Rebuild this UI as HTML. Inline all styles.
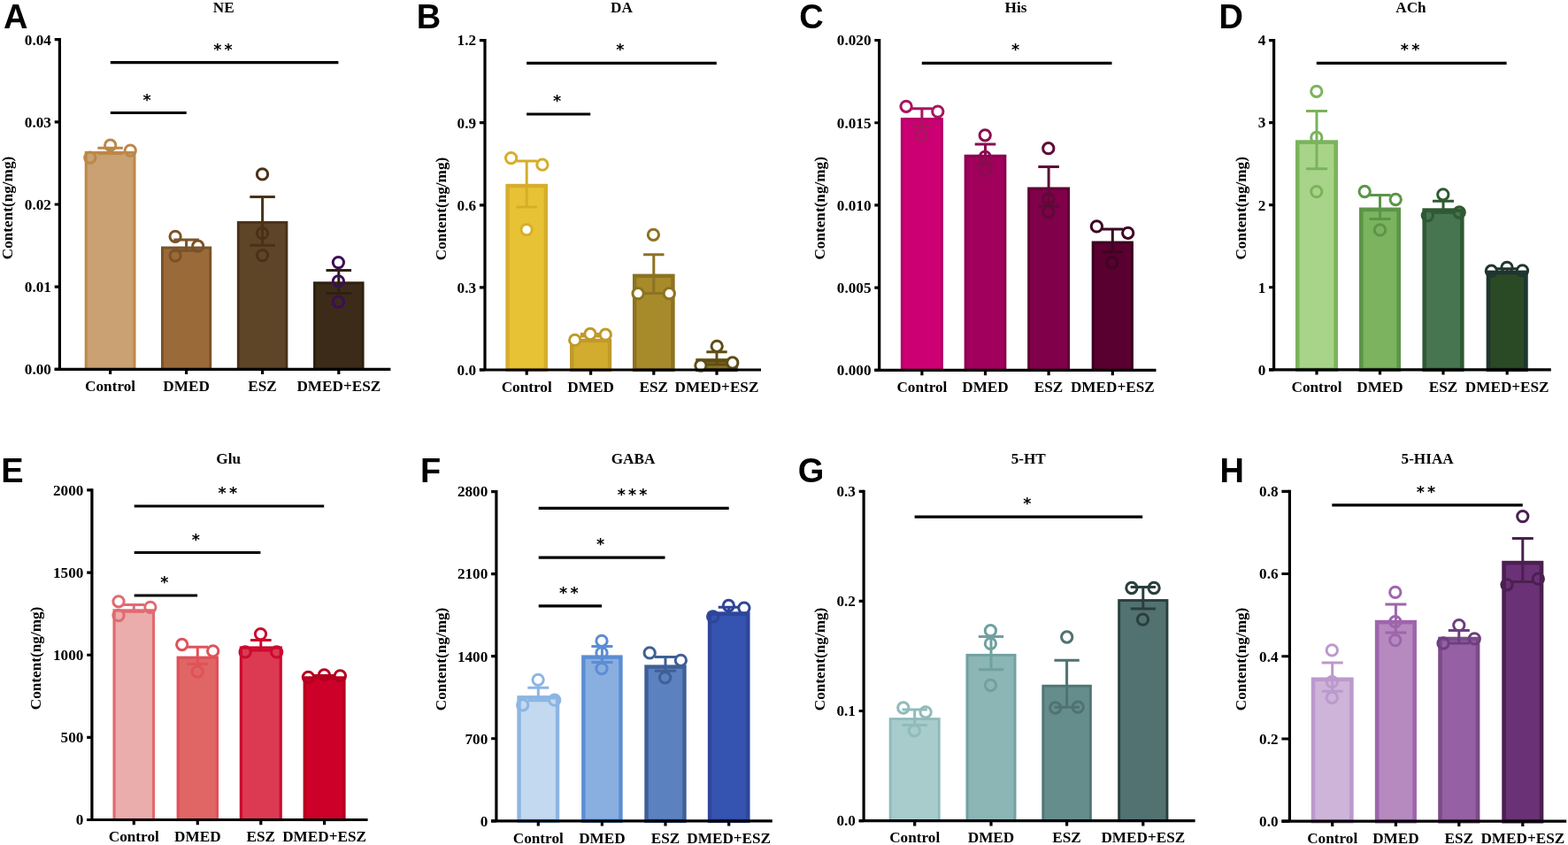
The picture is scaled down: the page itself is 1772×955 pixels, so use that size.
<!DOCTYPE html>
<html><head><meta charset="utf-8"><title>Neurotransmitter content</title>
<style>
html,body{margin:0;padding:0;background:#fff;}
svg{display:block;}
.t{font-family:'Liberation Serif', 'Times New Roman', serif;font-weight:bold;font-size:17.2px;fill:#000;}
.L{font-family:'Liberation Sans', Arial, sans-serif;font-weight:bold;font-size:38px;fill:#000;}
.s{font-family:'DejaVu Sans', sans-serif;font-weight:bold;font-size:17.5px;fill:#000;letter-spacing:3.2px;}
</style></head>
<body>
<svg width="1772" height="955" viewBox="0 0 1772 955">
<rect width="1772" height="955" fill="#fff"/>
<rect x="97.15" y="172.35" width="54.9" height="244.95" fill="#C9A172" stroke="#BD8747" stroke-width="2.9"/>
<rect x="183.45" y="279.95" width="54.3" height="137.35" fill="#9A6B39" stroke="#7B5228" stroke-width="2.9"/>
<rect x="269.3" y="251.35" width="54.6" height="165.95" fill="#5E4528" stroke="#4A3219" stroke-width="2.9"/>
<rect x="355.5" y="319.75" width="54.6" height="97.55" fill="#3C2B19" stroke="#2E2011" stroke-width="2.9"/>
<path d="M124.6 167.3V173.5M110.35 167.3H138.85M110.35 173.5H138.85" stroke="#BD8747" stroke-width="3.0" fill="none"/>
<path d="M210.6 271V283.2M196.35 271H224.85M196.35 283.2H224.85" stroke="#7B5228" stroke-width="3.0" fill="none"/>
<path d="M296.6 222.4V277.3M282.35 222.4H310.85M282.35 277.3H310.85" stroke="#4A3219" stroke-width="3.0" fill="none"/>
<path d="M382.8 305.5V331.6M368.55 305.5H397.05M368.55 331.6H397.05" stroke="#2E2011" stroke-width="3.0" fill="none"/>
<circle cx="124.7" cy="164.2" r="6.15" fill="none" stroke="#BD8747" stroke-width="3.0"/>
<circle cx="101.8" cy="178.1" r="6.15" fill="none" stroke="#BD8747" stroke-width="3.0"/>
<circle cx="147.3" cy="170.1" r="6.15" fill="none" stroke="#BD8747" stroke-width="3.0"/>
<circle cx="198.1" cy="267.3" r="6.15" fill="none" stroke="#7B5228" stroke-width="3.0"/>
<circle cx="223.7" cy="278.2" r="6.15" fill="none" stroke="#7B5228" stroke-width="3.0"/>
<circle cx="198.1" cy="289" r="6.15" fill="none" stroke="#7B5228" stroke-width="3.0"/>
<circle cx="296.5" cy="196.9" r="6.15" fill="none" stroke="#4A3219" stroke-width="3.0"/>
<circle cx="296.5" cy="263.6" r="6.15" fill="none" stroke="#4A3219" stroke-width="3.0"/>
<circle cx="296.5" cy="288.6" r="6.15" fill="none" stroke="#4A3219" stroke-width="3.0"/>
<circle cx="382.4" cy="296.6" r="6.15" fill="none" stroke="#3C0E56" stroke-width="3.0"/>
<circle cx="382.4" cy="317.9" r="6.15" fill="none" stroke="#3C0E56" stroke-width="3.0"/>
<circle cx="382.4" cy="341.1" r="6.15" fill="none" stroke="#3C0E56" stroke-width="3.0"/>
<path d="M67.4 43.1V417.3M61.7 417.3H441.4" stroke="#000" stroke-width="3.2" fill="none"/>
<text x="57.9" y="423.1" text-anchor="end" class="t">0.00</text>
<text x="57.9" y="329.95" text-anchor="end" class="t">0.01</text>
<text x="57.9" y="236.8" text-anchor="end" class="t">0.02</text>
<text x="57.9" y="143.65" text-anchor="end" class="t">0.03</text>
<text x="57.9" y="50.5" text-anchor="end" class="t">0.04</text>
<path d="M61.7 417.3H67.4M61.7 324.15H67.4M61.7 231H67.4M61.7 137.85H67.4M61.7 44.7H67.4M124.6 417.3V423.1M210.6 417.3V423.1M296.6 417.3V423.1M382.8 417.3V423.1" stroke="#000" stroke-width="3.2" fill="none"/>
<text x="124.6" y="442.1" text-anchor="middle" class="t">Control</text>
<text x="210.6" y="442.1" text-anchor="middle" class="t">DMED</text>
<text x="296.6" y="442.1" text-anchor="middle" class="t">ESZ</text>
<text x="382.8" y="442.1" text-anchor="middle" class="t">DMED+ESZ</text>
<text x="252.7" y="13.8" text-anchor="middle" class="t">NE</text>
<text x="3.95" y="31.85" class="L">A</text>
<text transform="translate(13.65 235) rotate(-90)" text-anchor="middle" class="t">Content(ng/mg)</text>
<path d="M124.8 70.7H382.4" stroke="#000" stroke-width="3.2"/>
<text x="253.6" y="61.7" text-anchor="middle" class="s">**</text>
<path d="M124.8 127.5H210.7" stroke="#000" stroke-width="3.2"/>
<text x="167.75" y="118.5" text-anchor="middle" class="s">*</text>
<rect x="573.55" y="210" width="43.3" height="208" fill="#E7C234" stroke="#D6AD2B" stroke-width="4.4"/>
<rect x="646.2" y="385" width="42.8" height="33" fill="#D2AC2F" stroke="#C09A29" stroke-width="4.4"/>
<rect x="717.15" y="311.8" width="43.3" height="106.2" fill="#A78A2A" stroke="#8C7321" stroke-width="4.4"/>
<rect x="788.45" y="407.4" width="43.1" height="10.6" fill="#8A7425" stroke="#5E4E16" stroke-width="4.4"/>
<path d="M595.2 182V233.9M583.5 182H606.9M583.5 233.9H606.9" stroke="#D6AD2B" stroke-width="3.0" fill="none"/>
<path d="M667.6 377.4V380M655.9 377.4H679.3M655.9 380H679.3" stroke="#C09A29" stroke-width="3.0" fill="none"/>
<path d="M738.8 287.7V331.5M727.1 287.7H750.5M727.1 331.5H750.5" stroke="#8C7321" stroke-width="3.0" fill="none"/>
<path d="M810 397.8V412M798.3 397.8H821.7M798.3 412H821.7" stroke="#5E4E16" stroke-width="3.0" fill="none"/>
<circle cx="577.6" cy="178.6" r="6.15" fill="#ffffff" stroke="#D6AD2B" stroke-width="3.0"/>
<circle cx="612.9" cy="186.2" r="6.15" fill="#ffffff" stroke="#D6AD2B" stroke-width="3.0"/>
<circle cx="595.1" cy="259.6" r="6.15" fill="#ffffff" stroke="#D6AD2B" stroke-width="3.0"/>
<circle cx="649.7" cy="384.4" r="6.15" fill="#ffffff" stroke="#C09A29" stroke-width="3.0"/>
<circle cx="667" cy="377.5" r="6.15" fill="#ffffff" stroke="#C09A29" stroke-width="3.0"/>
<circle cx="684.3" cy="378.2" r="6.15" fill="#ffffff" stroke="#C09A29" stroke-width="3.0"/>
<circle cx="738.4" cy="265.3" r="6.15" fill="#ffffff" stroke="#8C7321" stroke-width="3.0"/>
<circle cx="721.1" cy="331.7" r="6.15" fill="#ffffff" stroke="#8C7321" stroke-width="3.0"/>
<circle cx="756.3" cy="331.7" r="6.15" fill="#ffffff" stroke="#8C7321" stroke-width="3.0"/>
<circle cx="810.2" cy="391.3" r="6.15" fill="#ffffff" stroke="#5E4E16" stroke-width="3.0"/>
<circle cx="791.9" cy="413.1" r="6.15" fill="#ffffff" stroke="#5E4E16" stroke-width="3.0"/>
<circle cx="827.8" cy="410" r="6.15" fill="#ffffff" stroke="#5E4E16" stroke-width="3.0"/>
<path d="M548 44V418M541.9 418H860" stroke="#000" stroke-width="3.2" fill="none"/>
<text x="538.1" y="423.8" text-anchor="end" class="t">0.0</text>
<text x="538.1" y="330.7" text-anchor="end" class="t">0.3</text>
<text x="538.1" y="237.6" text-anchor="end" class="t">0.6</text>
<text x="538.1" y="144.5" text-anchor="end" class="t">0.9</text>
<text x="538.1" y="51.4" text-anchor="end" class="t">1.2</text>
<path d="M541.9 418H548M541.9 324.9H548M541.9 231.8H548M541.9 138.7H548M541.9 45.6H548M595.2 418V423.8M667.6 418V423.8M738.8 418V423.8M810 418V423.8" stroke="#000" stroke-width="3.2" fill="none"/>
<text x="595.2" y="442.8" text-anchor="middle" class="t">Control</text>
<text x="667.6" y="442.8" text-anchor="middle" class="t">DMED</text>
<text x="738.8" y="442.8" text-anchor="middle" class="t">ESZ</text>
<text x="810" y="442.8" text-anchor="middle" class="t">DMED+ESZ</text>
<text x="702.5" y="13.8" text-anchor="middle" class="t">DA</text>
<text x="470.7" y="32" class="L">B</text>
<text transform="translate(503.6 236) rotate(-90)" text-anchor="middle" class="t">Content(ng/mg)</text>
<path d="M595.1 71.3H809.8" stroke="#000" stroke-width="3.2"/>
<text x="702.45" y="62.3" text-anchor="middle" class="s">*</text>
<path d="M595.1 129H667.2" stroke="#000" stroke-width="3.2"/>
<text x="631.15" y="120" text-anchor="middle" class="s">*</text>
<rect x="1019.35" y="134.5" width="45.1" height="283.9" fill="#CC0073" stroke="#B5006A" stroke-width="3"/>
<rect x="1091.15" y="176.2" width="44.7" height="242.2" fill="#A1005C" stroke="#8A004F" stroke-width="3"/>
<rect x="1162.65" y="213" width="44.9" height="205.4" fill="#80004A" stroke="#5E0036" stroke-width="3"/>
<rect x="1235.2" y="274" width="44.2" height="144.4" fill="#5A0030" stroke="#3C0020" stroke-width="3"/>
<path d="M1041.9 122.8V142.9M1030.1 122.8H1053.7M1030.1 142.9H1053.7" stroke="#A8145F" stroke-width="3.0" fill="none"/>
<path d="M1113.5 163.1V186.2M1101.7 163.1H1125.3M1101.7 186.2H1125.3" stroke="#8C0A50" stroke-width="3.0" fill="none"/>
<path d="M1185.1 188.6V233.3M1173.3 188.6H1196.9M1173.3 233.3H1196.9" stroke="#5E0A38" stroke-width="3.0" fill="none"/>
<path d="M1257.3 259.1V284.7M1245.5 259.1H1269.1M1245.5 284.7H1269.1" stroke="#3C0522" stroke-width="3.0" fill="none"/>
<circle cx="1024.1" cy="120.3" r="6.15" fill="none" stroke="#A8145F" stroke-width="3.0"/>
<circle cx="1059.8" cy="126.1" r="6.15" fill="none" stroke="#A8145F" stroke-width="3.0"/>
<circle cx="1041.4" cy="152.8" r="6.15" fill="none" stroke="#A8145F" stroke-width="3.0"/>
<circle cx="1113.2" cy="152.8" r="6.15" fill="none" stroke="#8C0A50" stroke-width="3.0"/>
<circle cx="1113.2" cy="177.4" r="6.15" fill="none" stroke="#8C0A50" stroke-width="3.0"/>
<circle cx="1113.2" cy="192.4" r="6.15" fill="none" stroke="#8C0A50" stroke-width="3.0"/>
<circle cx="1184.8" cy="167.7" r="6.15" fill="none" stroke="#5E0A38" stroke-width="3.0"/>
<circle cx="1184.8" cy="224.8" r="6.15" fill="none" stroke="#5E0A38" stroke-width="3.0"/>
<circle cx="1184.8" cy="239.8" r="6.15" fill="none" stroke="#5E0A38" stroke-width="3.0"/>
<circle cx="1239.4" cy="255.9" r="6.15" fill="none" stroke="#3C0522" stroke-width="3.0"/>
<circle cx="1274.7" cy="263.3" r="6.15" fill="none" stroke="#3C0522" stroke-width="3.0"/>
<circle cx="1256.7" cy="296.9" r="6.15" fill="none" stroke="#3C0522" stroke-width="3.0"/>
<path d="M993.7 43.9V418.4M988.3 418.4H1306.5" stroke="#000" stroke-width="3.2" fill="none"/>
<text x="984.5" y="424.2" text-anchor="end" class="t">0.000</text>
<text x="984.5" y="330.97" text-anchor="end" class="t">0.005</text>
<text x="984.5" y="237.75" text-anchor="end" class="t">0.010</text>
<text x="984.5" y="144.53" text-anchor="end" class="t">0.015</text>
<text x="984.5" y="51.3" text-anchor="end" class="t">0.020</text>
<path d="M988.3 418.4H993.7M988.3 325.17H993.7M988.3 231.95H993.7M988.3 138.73H993.7M988.3 45.5H993.7M1041.9 418.4V424.2M1113.5 418.4V424.2M1185.1 418.4V424.2M1257.3 418.4V424.2" stroke="#000" stroke-width="3.2" fill="none"/>
<text x="1041.9" y="443.2" text-anchor="middle" class="t">Control</text>
<text x="1113.5" y="443.2" text-anchor="middle" class="t">DMED</text>
<text x="1185.1" y="443.2" text-anchor="middle" class="t">ESZ</text>
<text x="1257.3" y="443.2" text-anchor="middle" class="t">DMED+ESZ</text>
<text x="1148" y="13.8" text-anchor="middle" class="t">His</text>
<text x="903.2" y="32.45" class="L">C</text>
<text transform="translate(931.75 235.3) rotate(-90)" text-anchor="middle" class="t">Content(ng/mg)</text>
<path d="M1041.8 71.3H1256.5" stroke="#000" stroke-width="3.2"/>
<text x="1149.15" y="62.3" text-anchor="middle" class="s">*</text>
<rect x="1466.3" y="160.6" width="43.4" height="257.2" fill="#A8D48A" stroke="#7AB35C" stroke-width="4.6"/>
<rect x="1538.3" y="236.8" width="42.4" height="181" fill="#7BB35E" stroke="#5C9549" stroke-width="4.6"/>
<rect x="1609.7" y="237.6" width="42.6" height="180.2" fill="#467550" stroke="#2F5A32" stroke-width="4.6"/>
<rect x="1681.95" y="307.9" width="42.5" height="109.9" fill="#2A4925" stroke="#1F3530" stroke-width="4.6"/>
<path d="M1488 125.6V190.8M1476 125.6H1500M1476 190.8H1500" stroke="#7AB35C" stroke-width="3.0" fill="none"/>
<path d="M1559.5 220.4V247.4M1547.5 220.4H1571.5M1547.5 247.4H1571.5" stroke="#5C9549" stroke-width="3.0" fill="none"/>
<path d="M1631 227.2V240.3M1619 227.2H1643M1619 240.3H1643" stroke="#2F5A32" stroke-width="3.0" fill="none"/>
<path d="M1703.2 303.8V308M1691.2 303.8H1715.2M1691.2 308H1715.2" stroke="#1F3530" stroke-width="3.0" fill="none"/>
<circle cx="1487.8" cy="103.3" r="6.15" fill="none" stroke="#7AB35C" stroke-width="3.0"/>
<circle cx="1487.8" cy="155.5" r="6.15" fill="none" stroke="#7AB35C" stroke-width="3.0"/>
<circle cx="1487.8" cy="216.6" r="6.15" fill="none" stroke="#7AB35C" stroke-width="3.0"/>
<circle cx="1542.2" cy="216.5" r="6.15" fill="none" stroke="#5C9549" stroke-width="3.0"/>
<circle cx="1577.2" cy="225.5" r="6.15" fill="none" stroke="#5C9549" stroke-width="3.0"/>
<circle cx="1559.5" cy="259.9" r="6.15" fill="none" stroke="#5C9549" stroke-width="3.0"/>
<circle cx="1630.8" cy="219.8" r="6.15" fill="none" stroke="#2F5A32" stroke-width="3.0"/>
<circle cx="1613.3" cy="243.6" r="6.15" fill="none" stroke="#2F5A32" stroke-width="3.0"/>
<circle cx="1649.2" cy="240" r="6.15" fill="none" stroke="#2F5A32" stroke-width="3.0"/>
<circle cx="1685.4" cy="306.2" r="6.15" fill="none" stroke="#1F3530" stroke-width="3.0"/>
<circle cx="1703" cy="302.3" r="6.15" fill="none" stroke="#1F3530" stroke-width="3.0"/>
<circle cx="1720.5" cy="305.8" r="6.15" fill="none" stroke="#1F3530" stroke-width="3.0"/>
<path d="M1439.6 44V417.8M1434.1 417.8H1752.8" stroke="#000" stroke-width="3.2" fill="none"/>
<text x="1430.3" y="423.6" text-anchor="end" class="t">0</text>
<text x="1430.3" y="330.55" text-anchor="end" class="t">1</text>
<text x="1430.3" y="237.5" text-anchor="end" class="t">2</text>
<text x="1430.3" y="144.45" text-anchor="end" class="t">3</text>
<text x="1430.3" y="51.4" text-anchor="end" class="t">4</text>
<path d="M1434.1 417.8H1439.6M1434.1 324.75H1439.6M1434.1 231.7H1439.6M1434.1 138.65H1439.6M1434.1 45.6H1439.6M1488 417.8V423.6M1559.5 417.8V423.6M1631 417.8V423.6M1703.2 417.8V423.6" stroke="#000" stroke-width="3.2" fill="none"/>
<text x="1488" y="442.6" text-anchor="middle" class="t">Control</text>
<text x="1559.5" y="442.6" text-anchor="middle" class="t">DMED</text>
<text x="1631" y="442.6" text-anchor="middle" class="t">ESZ</text>
<text x="1703.2" y="442.6" text-anchor="middle" class="t">DMED+ESZ</text>
<text x="1594.5" y="13.8" text-anchor="middle" class="t">ACh</text>
<text x="1377.4" y="32" class="L">D</text>
<text transform="translate(1408.4 235.3) rotate(-90)" text-anchor="middle" class="t">Content(ng/mg)</text>
<path d="M1487.8 71.3H1702.6" stroke="#000" stroke-width="3.2"/>
<text x="1595.2" y="62.3" text-anchor="middle" class="s">**</text>
<rect x="129.05" y="689.9" width="44.5" height="236.6" fill="#EBACAC" stroke="#E06B70" stroke-width="3.2"/>
<rect x="201.2" y="743.2" width="44.2" height="183.3" fill="#E06565" stroke="#E0505A" stroke-width="3.2"/>
<rect x="272.35" y="732" width="44.9" height="194.5" fill="#DC3A52" stroke="#CC0A30" stroke-width="3.2"/>
<rect x="344.2" y="765.9" width="44.8" height="160.6" fill="#CC0029" stroke="#B5001F" stroke-width="3.2"/>
<path d="M151.3 683.6V691.3M139.45 683.6H163.15M139.45 691.3H163.15" stroke="#E06B70" stroke-width="3.0" fill="none"/>
<path d="M223.3 731.2V750.4M211.45 731.2H235.15M211.45 750.4H235.15" stroke="#E0525A" stroke-width="3.0" fill="none"/>
<path d="M294.8 723.6V734.9M282.95 723.6H306.65M282.95 734.9H306.65" stroke="#CC0A30" stroke-width="3.0" fill="none"/>
<path d="M366.6 763.4V766M354.75 763.4H378.45M354.75 766H378.45" stroke="#B5001F" stroke-width="3.0" fill="none"/>
<circle cx="134" cy="679.8" r="6.15" fill="none" stroke="#E06B70" stroke-width="3.0"/>
<circle cx="169.9" cy="686.3" r="6.15" fill="none" stroke="#E06B70" stroke-width="3.0"/>
<circle cx="134" cy="695.6" r="6.15" fill="none" stroke="#E06B70" stroke-width="3.0"/>
<circle cx="205.7" cy="728.5" r="6.15" fill="none" stroke="#E0525A" stroke-width="3.0"/>
<circle cx="240.7" cy="735.8" r="6.15" fill="none" stroke="#E0525A" stroke-width="3.0"/>
<circle cx="223.1" cy="759.2" r="6.15" fill="none" stroke="#E0525A" stroke-width="3.0"/>
<circle cx="294.5" cy="716.6" r="6.15" fill="none" stroke="#CC0A30" stroke-width="3.0"/>
<circle cx="277.1" cy="736.9" r="6.15" fill="none" stroke="#CC0A30" stroke-width="3.0"/>
<circle cx="312.7" cy="736.9" r="6.15" fill="none" stroke="#CC0A30" stroke-width="3.0"/>
<circle cx="348.4" cy="765.3" r="6.15" fill="none" stroke="#B5001F" stroke-width="3.0"/>
<circle cx="366.4" cy="762.9" r="6.15" fill="none" stroke="#B5001F" stroke-width="3.0"/>
<circle cx="384.4" cy="763.8" r="6.15" fill="none" stroke="#B5001F" stroke-width="3.0"/>
<path d="M103.9 552.35V926.5M98.2 926.5H415.6" stroke="#000" stroke-width="3.2" fill="none"/>
<text x="94.4" y="932.3" text-anchor="end" class="t">0</text>
<text x="94.4" y="839.16" text-anchor="end" class="t">500</text>
<text x="94.4" y="746.02" text-anchor="end" class="t">1000</text>
<text x="94.4" y="652.89" text-anchor="end" class="t">1500</text>
<text x="94.4" y="559.75" text-anchor="end" class="t">2000</text>
<path d="M98.2 926.5H103.9M98.2 833.36H103.9M98.2 740.23H103.9M98.2 647.09H103.9M98.2 553.95H103.9M151.3 926.5V932.3M223.3 926.5V932.3M294.8 926.5V932.3M366.6 926.5V932.3" stroke="#000" stroke-width="3.2" fill="none"/>
<text x="151.3" y="951.3" text-anchor="middle" class="t">Control</text>
<text x="223.3" y="951.3" text-anchor="middle" class="t">DMED</text>
<text x="294.8" y="951.3" text-anchor="middle" class="t">ESZ</text>
<text x="366.6" y="951.3" text-anchor="middle" class="t">DMED+ESZ</text>
<text x="258.2" y="523.8" text-anchor="middle" class="t">Glu</text>
<text x="1.35" y="545" class="L">E</text>
<text transform="translate(45.7 743.95) rotate(-90)" text-anchor="middle" class="t">Content(ng/mg)</text>
<path d="M151.7 572H366.2" stroke="#000" stroke-width="3.2"/>
<text x="258.95" y="563" text-anchor="middle" class="s">**</text>
<path d="M151.7 624.5H294.4" stroke="#000" stroke-width="3.2"/>
<text x="223.05" y="615.5" text-anchor="middle" class="s">*</text>
<path d="M151.7 673H223.1" stroke="#000" stroke-width="3.2"/>
<text x="187.4" y="664" text-anchor="middle" class="s">*</text>
<rect x="586.55" y="788.3" width="43.5" height="139.5" fill="#C3D9F0" stroke="#8DB5E3" stroke-width="4.4"/>
<rect x="659.35" y="742.6" width="42.1" height="185.2" fill="#88AFE0" stroke="#5B8DD3" stroke-width="4.4"/>
<rect x="730.5" y="753.6" width="43" height="174.2" fill="#5B81BF" stroke="#3F5F96" stroke-width="4.4"/>
<rect x="802.05" y="693.5" width="43.3" height="234.3" fill="#3553B0" stroke="#2E4699" stroke-width="4.4"/>
<path d="M608.3 777.2V791.7M596.3 777.2H620.3M596.3 791.7H620.3" stroke="#8DB5E3" stroke-width="3.0" fill="none"/>
<path d="M680.4 730.6V748.4M668.4 730.6H692.4M668.4 748.4H692.4" stroke="#5B8DD3" stroke-width="3.0" fill="none"/>
<path d="M752 742.4V758.2M740 742.4H764M740 758.2H764" stroke="#3F5F96" stroke-width="3.0" fill="none"/>
<path d="M823.7 686.2V694.5M811.7 686.2H835.7M811.7 694.5H835.7" stroke="#2E4699" stroke-width="3.0" fill="none"/>
<circle cx="608.1" cy="768.3" r="6.15" fill="none" stroke="#8DB5E3" stroke-width="3.0"/>
<circle cx="590.7" cy="796.8" r="6.15" fill="none" stroke="#8DB5E3" stroke-width="3.0"/>
<circle cx="626.7" cy="791.2" r="6.15" fill="none" stroke="#8DB5E3" stroke-width="3.0"/>
<circle cx="680" cy="724.3" r="6.15" fill="none" stroke="#5B8DD3" stroke-width="3.0"/>
<circle cx="680" cy="737.9" r="6.15" fill="none" stroke="#5B8DD3" stroke-width="3.0"/>
<circle cx="680" cy="755.6" r="6.15" fill="none" stroke="#5B8DD3" stroke-width="3.0"/>
<circle cx="734.2" cy="737.9" r="6.15" fill="none" stroke="#3F5F96" stroke-width="3.0"/>
<circle cx="769.4" cy="746.3" r="6.15" fill="none" stroke="#3F5F96" stroke-width="3.0"/>
<circle cx="751.6" cy="765.8" r="6.15" fill="none" stroke="#3F5F96" stroke-width="3.0"/>
<circle cx="823.4" cy="684.5" r="6.15" fill="none" stroke="#2E4699" stroke-width="3.0"/>
<circle cx="840.9" cy="687.1" r="6.15" fill="none" stroke="#2E4699" stroke-width="3.0"/>
<circle cx="805.7" cy="696.9" r="6.15" fill="none" stroke="#2E4699" stroke-width="3.0"/>
<path d="M560.9 554V927.8M555.1 927.8H872.8" stroke="#000" stroke-width="3.2" fill="none"/>
<text x="551.3" y="933.6" text-anchor="end" class="t">0</text>
<text x="551.3" y="840.55" text-anchor="end" class="t">700</text>
<text x="551.3" y="747.5" text-anchor="end" class="t">1400</text>
<text x="551.3" y="654.45" text-anchor="end" class="t">2100</text>
<text x="551.3" y="561.4" text-anchor="end" class="t">2800</text>
<path d="M555.1 927.8H560.9M555.1 834.75H560.9M555.1 741.7H560.9M555.1 648.65H560.9M555.1 555.6H560.9M608.3 927.8V933.6M680.4 927.8V933.6M752 927.8V933.6M823.7 927.8V933.6" stroke="#000" stroke-width="3.2" fill="none"/>
<text x="608.3" y="952.6" text-anchor="middle" class="t">Control</text>
<text x="680.4" y="952.6" text-anchor="middle" class="t">DMED</text>
<text x="752" y="952.6" text-anchor="middle" class="t">ESZ</text>
<text x="823.7" y="952.6" text-anchor="middle" class="t">DMED+ESZ</text>
<text x="715.5" y="523.8" text-anchor="middle" class="t">GABA</text>
<text x="474.9" y="544.8" class="L">F</text>
<text transform="translate(503.6 744.95) rotate(-90)" text-anchor="middle" class="t">Content(ng/mg)</text>
<path d="M608.7 574.3H823.7" stroke="#000" stroke-width="3.2"/>
<text x="716.2" y="565.3" text-anchor="middle" class="s">***</text>
<path d="M608.7 630.1H751.5" stroke="#000" stroke-width="3.2"/>
<text x="680.1" y="621.1" text-anchor="middle" class="s">*</text>
<path d="M608.7 684.9H680.1" stroke="#000" stroke-width="3.2"/>
<text x="644.4" y="675.9" text-anchor="middle" class="s">**</text>
<rect x="1006.15" y="812.55" width="55.1" height="115.05" fill="#A8CBCB" stroke="#90BBBB" stroke-width="2.9"/>
<rect x="1092.95" y="740.35" width="54.1" height="187.25" fill="#8CB5B5" stroke="#72A0A0" stroke-width="2.9"/>
<rect x="1178.8" y="775.25" width="53.6" height="152.35" fill="#658D8B" stroke="#4F7676" stroke-width="2.9"/>
<rect x="1264.65" y="678.55" width="54.3" height="249.05" fill="#527171" stroke="#2A3E3D" stroke-width="2.9"/>
<path d="M1033.7 802.1V819.5M1019.55 802.1H1047.85M1019.55 819.5H1047.85" stroke="#90BBBB" stroke-width="3.0" fill="none"/>
<path d="M1120 719.4V756.7M1105.85 719.4H1134.15M1105.85 756.7H1134.15" stroke="#70A0A0" stroke-width="3.0" fill="none"/>
<path d="M1205.6 746.2V799.2M1191.45 746.2H1219.75M1191.45 799.2H1219.75" stroke="#4F7272" stroke-width="3.0" fill="none"/>
<path d="M1291.8 663.5V688M1277.65 663.5H1305.95M1277.65 688H1305.95" stroke="#2A3E3D" stroke-width="3.0" fill="none"/>
<circle cx="1020.8" cy="800" r="6.15" fill="none" stroke="#90BBBB" stroke-width="3.0"/>
<circle cx="1046.1" cy="804.8" r="6.15" fill="none" stroke="#90BBBB" stroke-width="3.0"/>
<circle cx="1033.3" cy="825.8" r="6.15" fill="none" stroke="#90BBBB" stroke-width="3.0"/>
<circle cx="1119.4" cy="712.7" r="6.15" fill="none" stroke="#70A0A0" stroke-width="3.0"/>
<circle cx="1119.4" cy="727.4" r="6.15" fill="none" stroke="#70A0A0" stroke-width="3.0"/>
<circle cx="1119.4" cy="774.5" r="6.15" fill="none" stroke="#70A0A0" stroke-width="3.0"/>
<circle cx="1205.7" cy="720" r="6.15" fill="none" stroke="#4F7272" stroke-width="3.0"/>
<circle cx="1192.7" cy="800" r="6.15" fill="none" stroke="#4F7272" stroke-width="3.0"/>
<circle cx="1218.2" cy="799.2" r="6.15" fill="none" stroke="#4F7272" stroke-width="3.0"/>
<circle cx="1278.9" cy="664.5" r="6.15" fill="none" stroke="#2A3E3D" stroke-width="3.0"/>
<circle cx="1304.1" cy="664.5" r="6.15" fill="none" stroke="#2A3E3D" stroke-width="3.0"/>
<circle cx="1291.5" cy="700.1" r="6.15" fill="none" stroke="#2A3E3D" stroke-width="3.0"/>
<path d="M976.1 553.7V927.6M970.7 927.6H1350.6" stroke="#000" stroke-width="3.2" fill="none"/>
<text x="966.9" y="933.4" text-anchor="end" class="t">0.0</text>
<text x="966.9" y="809.3" text-anchor="end" class="t">0.1</text>
<text x="966.9" y="685.2" text-anchor="end" class="t">0.2</text>
<text x="966.9" y="561.1" text-anchor="end" class="t">0.3</text>
<path d="M970.7 927.6H976.1M970.7 803.5H976.1M970.7 679.4H976.1M970.7 555.3H976.1M1033.7 927.6V933.4M1120 927.6V933.4M1205.6 927.6V933.4M1291.8 927.6V933.4" stroke="#000" stroke-width="3.2" fill="none"/>
<text x="1033.7" y="952.4" text-anchor="middle" class="t">Control</text>
<text x="1120" y="952.4" text-anchor="middle" class="t">DMED</text>
<text x="1205.6" y="952.4" text-anchor="middle" class="t">ESZ</text>
<text x="1291.8" y="952.4" text-anchor="middle" class="t">DMED+ESZ</text>
<text x="1162.25" y="523.8" text-anchor="middle" class="t">5-HT</text>
<text x="901.75" y="544.65" class="L">G</text>
<text transform="translate(931.9 744.95) rotate(-90)" text-anchor="middle" class="t">Content(ng/mg)</text>
<path d="M1033.6 584.2H1291.2" stroke="#000" stroke-width="3.2"/>
<text x="1162.4" y="575.2" text-anchor="middle" class="s">*</text>
<rect x="1484.05" y="767.8" width="43.3" height="160.4" fill="#CEB4D9" stroke="#BC99CD" stroke-width="4.6"/>
<rect x="1556.15" y="703.1" width="42.5" height="225.1" fill="#B68ABF" stroke="#9E65AC" stroke-width="4.6"/>
<rect x="1627.5" y="722" width="42.6" height="206.2" fill="#9660A4" stroke="#7A4B89" stroke-width="4.6"/>
<rect x="1699.55" y="636.1" width="42.5" height="292.1" fill="#6B3176" stroke="#4A2050" stroke-width="4.6"/>
<path d="M1505.7 749V781.2M1493.7 749H1517.7M1493.7 781.2H1517.7" stroke="#BC99CD" stroke-width="3.0" fill="none"/>
<path d="M1577.4 683V715M1565.4 683H1589.4M1565.4 715H1589.4" stroke="#9E65AC" stroke-width="3.0" fill="none"/>
<path d="M1648.8 712.4V727M1636.8 712.4H1660.8M1636.8 727H1660.8" stroke="#6E3E7E" stroke-width="3.0" fill="none"/>
<path d="M1720.8 608.4V657.4M1708.8 608.4H1732.8M1708.8 657.4H1732.8" stroke="#4A2050" stroke-width="3.0" fill="none"/>
<circle cx="1505.3" cy="734.9" r="6.15" fill="none" stroke="#BC99CD" stroke-width="3.0"/>
<circle cx="1505.3" cy="770.7" r="6.15" fill="none" stroke="#BC99CD" stroke-width="3.0"/>
<circle cx="1505.3" cy="788.5" r="6.15" fill="none" stroke="#BC99CD" stroke-width="3.0"/>
<circle cx="1576.8" cy="669.4" r="6.15" fill="none" stroke="#9E65AC" stroke-width="3.0"/>
<circle cx="1576.8" cy="702.7" r="6.15" fill="none" stroke="#9E65AC" stroke-width="3.0"/>
<circle cx="1576.8" cy="723.6" r="6.15" fill="none" stroke="#9E65AC" stroke-width="3.0"/>
<circle cx="1648.8" cy="706.6" r="6.15" fill="none" stroke="#6E3E7E" stroke-width="3.0"/>
<circle cx="1631" cy="727" r="6.15" fill="none" stroke="#6E3E7E" stroke-width="3.0"/>
<circle cx="1666.3" cy="721.8" r="6.15" fill="none" stroke="#6E3E7E" stroke-width="3.0"/>
<circle cx="1720.8" cy="583.6" r="6.15" fill="none" stroke="#4A2050" stroke-width="3.0"/>
<circle cx="1703" cy="660.8" r="6.15" fill="none" stroke="#4A2050" stroke-width="3.0"/>
<circle cx="1738.3" cy="654.2" r="6.15" fill="none" stroke="#4A2050" stroke-width="3.0"/>
<path d="M1457.4 553.7V928.2M1448.4 928.2H1770.2" stroke="#000" stroke-width="3.2" fill="none"/>
<text x="1444.6" y="934" text-anchor="end" class="t">0.0</text>
<text x="1444.6" y="840.77" text-anchor="end" class="t">0.2</text>
<text x="1444.6" y="747.55" text-anchor="end" class="t">0.4</text>
<text x="1444.6" y="654.32" text-anchor="end" class="t">0.6</text>
<text x="1444.6" y="561.1" text-anchor="end" class="t">0.8</text>
<path d="M1448.4 928.2H1457.4M1448.4 834.98H1457.4M1448.4 741.75H1457.4M1448.4 648.52H1457.4M1448.4 555.3H1457.4M1505.7 928.2V934M1577.4 928.2V934M1648.8 928.2V934M1720.8 928.2V934" stroke="#000" stroke-width="3.2" fill="none"/>
<text x="1505.7" y="953" text-anchor="middle" class="t">Control</text>
<text x="1577.4" y="953" text-anchor="middle" class="t">DMED</text>
<text x="1648.8" y="953" text-anchor="middle" class="t">ESZ</text>
<text x="1720.8" y="953" text-anchor="middle" class="t">DMED+ESZ</text>
<text x="1613.15" y="523.8" text-anchor="middle" class="t">5-HIAA</text>
<text x="1378.4" y="544.9" class="L">H</text>
<text transform="translate(1408.4 744.95) rotate(-90)" text-anchor="middle" class="t">Content(ng/mg)</text>
<path d="M1505.3 570.9H1720.8" stroke="#000" stroke-width="3.2"/>
<text x="1613.05" y="561.9" text-anchor="middle" class="s">**</text>
</svg>
</body></html>
